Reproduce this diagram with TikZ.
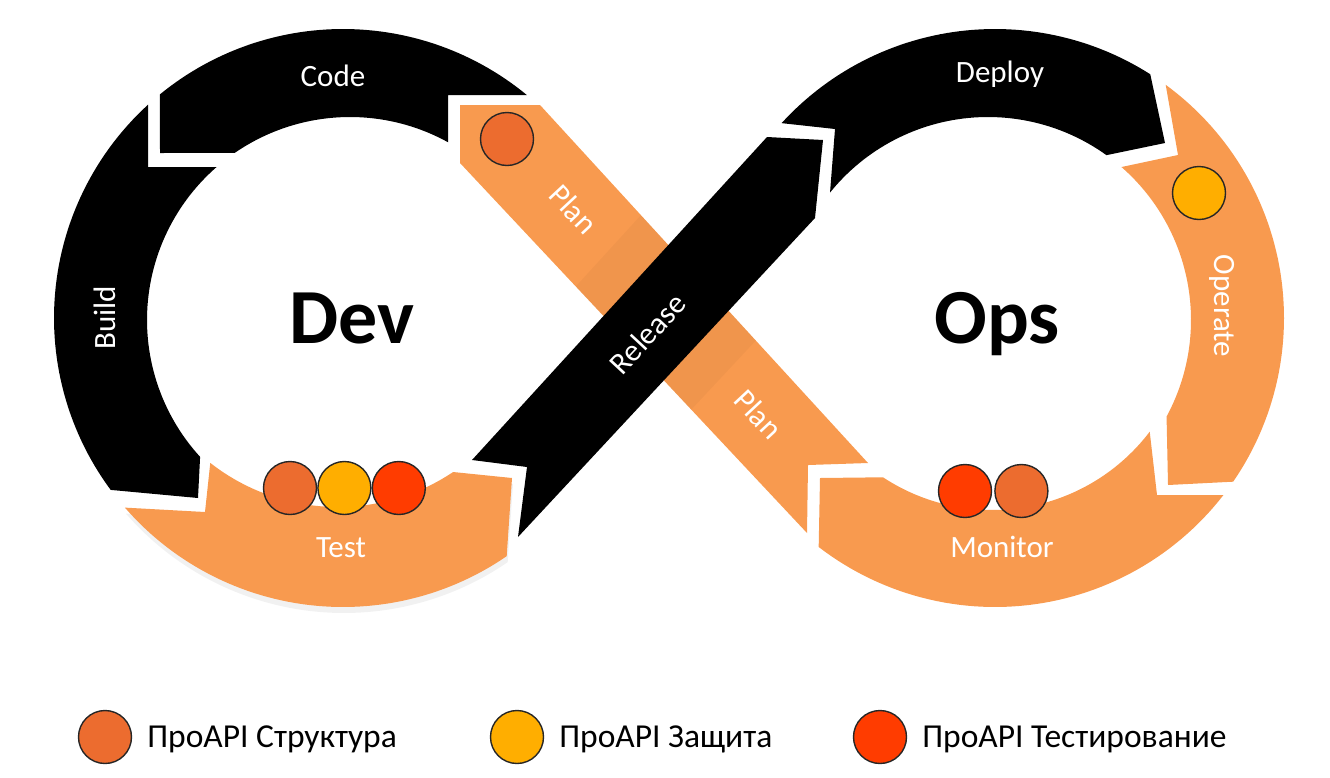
\documentclass[tikz,border=0pt]{standalone}
\usepackage{fontspec}
\setmainfont{Carlito}
\usetikzlibrary{positioning,shadows}

\definecolor{bandorange}{HTML}{F89A4F}
\definecolor{apistruct}{HTML}{EC6C2F}
\definecolor{apisecure}{HTML}{FFAE00}
\definecolor{apitest}{HTML}{FF3C00}

% ring arcs, angles measured on the page (y points down)
\newcommand{\devout}[2]{-- plot[domain=#1:#2, samples=60] ({343+289*cos(\x)}, {318+289*sin(\x)})}
\newcommand{\devin}[2]{-- plot[domain=#1:#2, samples=60] ({350+203*cos(\x)}, {320+203*sin(\x)})}
\newcommand{\testin}[2]{-- plot[domain=#1:#2, samples=60] ({338+207*cos(\x)}, {300+207*sin(\x)})}
\newcommand{\opsout}[2]{-- plot[domain=#1:#2, samples=60] ({995+289*cos(\x)}, {318+289*sin(\x)})}
\newcommand{\opsin}[2]{-- plot[domain=#1:#2, samples=60] ({988+203*cos(\x)}, {320+203*sin(\x)})}
\newcommand{\monin}[2]{-- plot[domain=#1:#2, samples=60] ({992+198*cos(\x)}, {312+198*sin(\x)})}

\begin{document}
\begin{tikzpicture}[
    x=1pt, y=-1pt,
    darkseg/.style={fill=black},
    lightseg/.style={fill=bandorange},
    seglabel/.style={text=white, font=\fontsize{31}{31}\selectfont, text height=20pt, text depth=0pt, inner sep=0pt},
    hub/.style={font=\bfseries\fontsize{78}{78}\selectfont, text height=50pt, text depth=0pt, inner sep=0pt},
    apidot/.style={circle, draw=black!85, line width=1.4pt, minimum size=53pt, inner sep=0pt},
    keytext/.style={font=\fontsize{33.5}{33.5}\selectfont, text height=21pt, text depth=0pt, inner sep=0pt}
]

    \useasboundingbox (0,0) rectangle (1330,777);

    % Build
    \fill[darkseg] (148,167) \devin{228.9}{137.6} -- (198,498) \devout{143.5}{227.6} -- cycle;

    % Code
    \fill[darkseg] (160,153) \devout{230.7}{309.5} -- (448,95) \devin{298.9}{235.4} -- cycle;

    % Test
    \fill[lightseg, drop shadow={shadow xshift=1pt, shadow yshift=-6pt, opacity=.11}]
        (205,512) \testin{128.1}{56.2} -- (512,478) \devout{55.5}{139} -- cycle;

    % Plan (diagonal, under Release)
    \fill[lightseg] (460,105) -- (540,105) -- (868,463) -- (808,465) -- (807,533) -- (460,163) -- cycle;
    \begin{scope}
        \clip (460,105) -- (540,105) -- (868,463) -- (808,465) -- (807,533) -- (460,163) -- cycle;
        \fill[black, opacity=.03] (442,433) -- (737,110) -- (845,245) -- (547,564) -- cycle;
    \end{scope}

    % Release
    \fill[darkseg] (472,460) -- (767,137) -- (823,140) -- (815,218) -- (518,537) -- (527,467) -- cycle;

    % Deploy
    \fill[darkseg] (835,129) \opsout{222.4}{302.5} -- (1165,143) \opsin{305.7}{218.9} -- cycle;

    % Operate
    \fill[lightseg] (1178,155) \opsin{311.1}{388.4} -- (1168,485) \opsout{394.5}{306.2} -- cycle;

    % Monitor
    \fill[lightseg] (1157,495) \monin{37.2}{123.4} -- (820,478) \opsout{127.6}{37.8} -- cycle;

    % Stage labels
    \node[seglabel] (code) at (333,76) {Code};
    \node[seglabel, rotate=90] (build) at (105,318) {Build};
    \node[seglabel] (test) at (341,547) {Test};
    \node[seglabel, rotate=-47] (plantop) at (573,210) {Plan};
    \node[seglabel, rotate=47] (release) at (648,334) {Release};
    \node[seglabel, rotate=-47] (planlow) at (758,415) {Plan};
    \node[seglabel] (deploy) at (1000,72) {Deploy};
    \node[seglabel, rotate=-90] (operate) at (1224,306) {Operate};
    \node[seglabel] (monitor) at (1002,547) {Monitor};

    % Loop centres
    \node[hub] (dev) at (352,318) {Dev};
    \node[hub] (ops) at (997,318) {Ops};

    % ProAPI markers
    \node[apidot, fill=apistruct] (plandot) at (507,139) {};
    \node[apidot, fill=apistruct] (testdota) at (290,488) {};
    \node[apidot, fill=apisecure, right=0pt of testdota] (testdotb) {};
    \node[apidot, fill=apitest, right=0pt of testdotb] (testdotc) {};
    \node[apidot, fill=apisecure] (operatedot) at (1199,193) {};
    \node[apidot, fill=apitest] (monitordota) at (965,491) {};
    \node[apidot, fill=apistruct, right=2pt of monitordota] (monitordotb) {};

    % Legend
    \node[apidot, fill=apistruct] (keystruct) at (105,737) {};
    \node[keytext, right=15pt of keystruct] (keystructtext) {ПроAPI Структура};
    \node[apidot, fill=apisecure] (keysecure) at (517,737) {};
    \node[keytext, right=15pt of keysecure] (keysecuretext) {ПроAPI Защита};
    \node[apidot, fill=apitest] (keytest) at (880,737) {};
    \node[keytext, right=15pt of keytest] (keytesttext) {ПроAPI Тестирование};

\end{tikzpicture}
\end{document}
